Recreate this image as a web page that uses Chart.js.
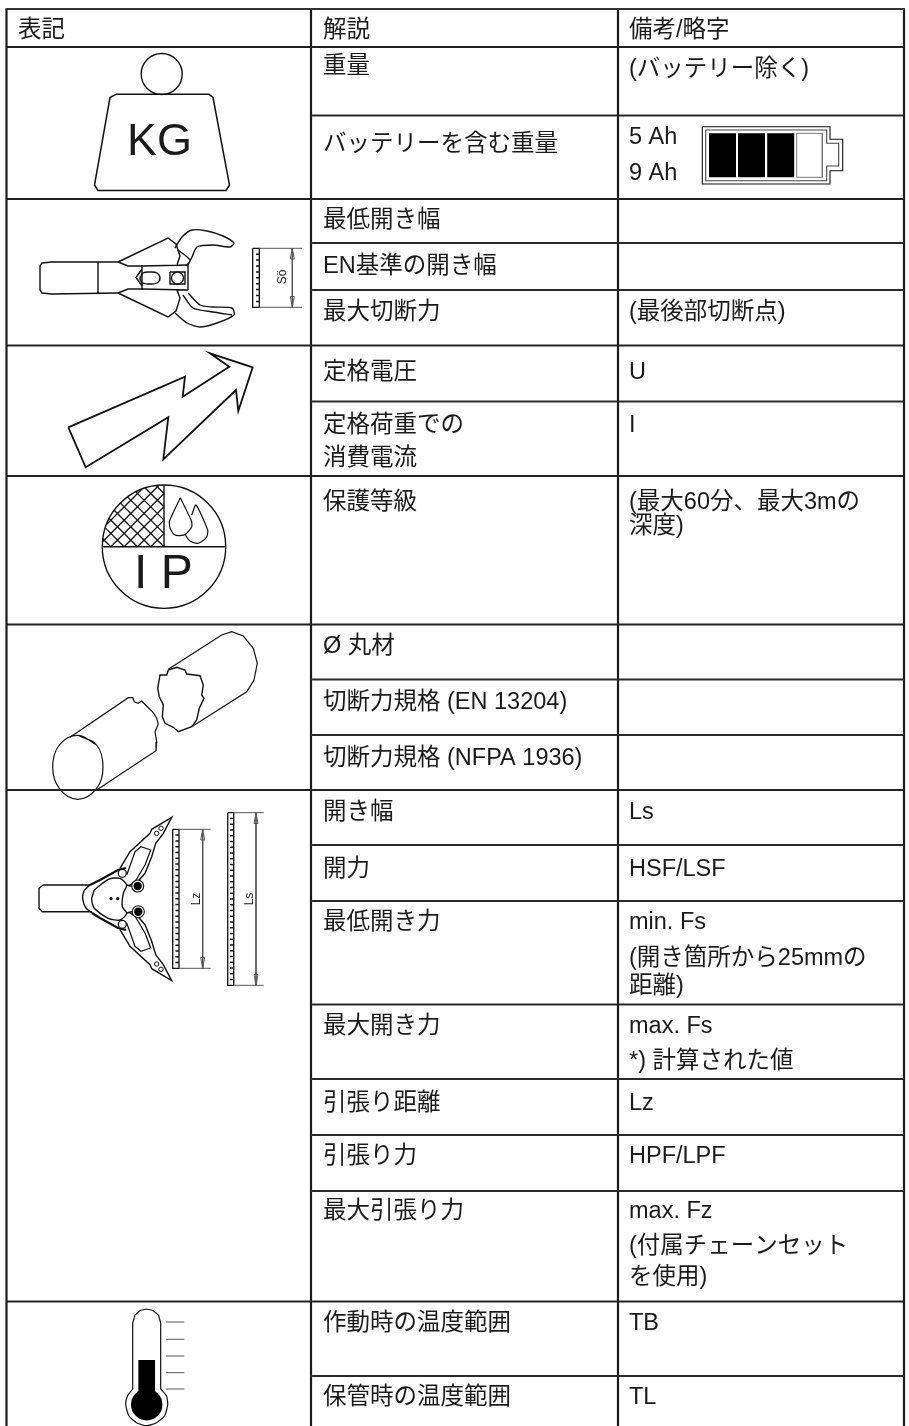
<!DOCTYPE html>
<html>
<head>
<meta charset="utf-8">
<script src="https://cdn.jsdelivr.net/npm/chart.js@4"></script>
<style>
html, body { margin: 0; padding: 0; background: #fff; }
canvas { display: block; }
</style>
</head>
<body>
<canvas id="sheet" width="909" height="1426"></canvas>
<script>
// table rulings, in picture units
const colEdges = [6.5, 311, 618, 904];
const topEdge = 9;
const bottomEdge = 1426;
const fullRows = [47, 199, 345.5, 476, 624.5, 790, 1301.5];
const innerRows = [115.5, 243, 290, 401.5, 679.5, 735, 845, 901, 1004.5, 1079, 1135, 1191, 1376];

const headTexts = ["表記", "解説", "備考/略字"];
const headY = 37;
const descTexts = ["重量", "バッテリーを含む重量", "最低開き幅", "EN基準の開き幅", "最大切断力", "定格電圧", "定格荷重での", "消費電流", "保護等級", "Ø 丸材", "切断力規格 (EN 13204)", "切断力規格 (NFPA 1936)", "開き幅", "開力", "最低開き力", "最大開き力", "引張り距離", "引張り力", "最大引張り力", "作動時の温度範囲", "保管時の温度範囲"];
const descY = [73, 151, 227, 273, 319, 379, 432, 465, 509, 653, 709, 765, 819, 876, 929, 1033, 1110, 1163, 1218, 1330, 1404];
const noteTexts = ["(バッテリー除く)", "5 Ah", "9 Ah", "(最後部切断点)", "U", "I", "(最大60分、最大3mの", "深度)", "Ls", "HSF/LSF", "min. Fs", "(開き箇所から25mmの", "距離)", "max. Fs", "*) 計算された値", "Lz", "HPF/LPF", "max. Fz", "(付属チェーンセット", "を使用)", "TB", "TL"];
const noteY = [76, 144, 180, 319, 379, 432, 509, 533, 819, 876, 929, 965, 993, 1033, 1068, 1110, 1163, 1218, 1253, 1284, 1330, 1404];

// weight symbol
const weightBody = [[116, 94.3], [209, 94.3], [213, 97.5], [229.5, 185], [226, 190.5], [98, 190.5], [94.5, 185], [110, 97.5], [116, 94.3]];
const weightRing = [[161.7, 74]];

// battery
const batteryOuter = [[702.3, 126.7], [830, 126.7], [830, 139.3], [842.7, 139.3], [842.7, 170.7], [830, 170.7], [830, 184], [702.3, 184], [702.3, 126.7]];
const batteryInner = [[705.7, 130], [826.7, 130], [826.7, 143.3], [838.7, 143.3], [838.7, 166], [826.7, 166], [826.7, 180.7], [705.7, 180.7], [705.7, 130]];
const batteryBarX = [722.5, 751.5, 780.7];
const batteryEmpty = [[796.7, 133.3], [822.3, 133.3], [822.3, 177.3], [796.7, 177.3], [796.7, 133.3]];

// cutter
const cutterHandle = [[118, 262], [52, 262], [42, 263], [40, 266], [40, 290], [42, 293], [52, 294], [118, 293], null, [98, 262], [98, 293]];
const cutterUpper = [[118, 262], [168, 238], [176, 244], [180, 256], [177, 265], null, [118, 262], [128, 266], [142, 266], [188, 265]];
const cutterLower = [[118, 293], [168, 317], [176, 311], [180, 298], [177, 290], null, [118, 293], [128, 289], [142, 289], [188, 290]];
const cutterBlock = [[188, 265], [188, 290], null, [142, 265], [142, 290], null, [142, 269], [136, 277.5], [142, 286], null, [170, 272], [185, 272], [185, 284], [170, 284], [170, 272]];
const cutterOval = [[140, 278], [143, 273], [150, 272], [157, 273], [160, 278], [157, 283], [150, 284], [143, 283], [140, 278], [143, 273]];
const cutterPin = [[177.5, 278]];
const jawUpper = [[175, 248], [182, 237], [192, 230], [207, 231], [223, 236], [234, 243], [230, 247], [213, 245], [197, 247], [192, 257], [188, 265], null, [178, 250], [190, 260], [186, 266]];
const jawLower = [[175, 313], [187, 323], [200, 327], [217, 323], [234, 315], [232, 308], [213, 307], [200, 305], [188, 293], null, [183, 295], [193, 308], [213, 312], [232, 315]];
const openScale = [[252.7, 248.3], [259.3, 248.3], [259.3, 307.3], [252.7, 307.3], [252.7, 248.3]];
const openTickY = [254.2, 260.1, 266, 271.9, 277.8, 283.7, 289.6, 295.5, 301.4];
const openGuides = [[259.3, 248.3], [302, 248.3], null, [259.3, 307.3], [302, 307.3], null, [292.3, 248.3], [292.3, 307.3]];
const openArrows = [[290.3, 259], [292.3, 248.3], [294.3, 259], [290.3, 259], null, [290.3, 296.5], [292.3, 307.3], [294.3, 296.5], [290.3, 296.5]];

// lightning arrow
const arrowShape = [[68.3, 427.3], [185, 376.7], [182.7, 396.7], [229.3, 366.7], [210, 353.3], [252.7, 367.3], [238.3, 411], [236, 390], [163.3, 459.3], [168.3, 417.3], [85.7, 467.3], [68.3, 427.3]];

// IP symbol
const ipCircle = [[164, 546.7]];
const ipCross = [[102.3, 546.7], [225.7, 546.7], null, [164, 485], [164, 546.7]];
const ipHatch = [
  [150.7, 546.7], [164, 533.4], null, [137.4, 546.7], [164, 520.1], null, [124.1, 546.7], [164, 506.8], null,
  [110.8, 546.7], [164, 493.5], null, [102.5, 541.7], [159, 485.2], null, [106.5, 524.5], [141.8, 489.2], null,
  [164, 546.7], [120.4, 503.1], null, [150.7, 546.7], [114.2, 510.2], null, [137.4, 546.7], [109.2, 518.5], null,
  [124.1, 546.7], [105.3, 527.9], null, [110.8, 546.7], [102.8, 538.7], null, [164, 533.4], [127.5, 496.9], null,
  [164, 520.1], [135.8, 491.9], null, [164, 506.8], [145.2, 488], null, [164, 493.5], [156, 485.5]
];
const dropLeft = [[180.3, 497.7], [191.5, 521], [191.7, 527], [186, 534], [180, 535.7], [174, 534.5], [170, 528], [169.5, 521], [180.3, 497.7]];
const dropRight = [[191.7, 515], [196, 505], [207.7, 530], [206.7, 537], [201, 542], [196.7, 543.3], [190, 541], [185.3, 535]];

// broken tube
const tubeEnd = [[77.7, 735.3], [96.7, 745], [103, 767.3], [96.7, 788.3], [77.7, 799.3], [59.3, 788.3], [52.7, 767.3], [59.3, 745], [77.7, 735.3], [96.7, 745]];
const tubeLeft = [[70, 737.3], [128.3, 697.7], [132.7, 697.7], [134.3, 701.7], [138.3, 703.3], [141.7, 701], [146.7, 706], [153.3, 712.7], [156.7, 718.3], [158.3, 724], [155, 731.7], [156.7, 741.7], [156, 750.7], [96.7, 790]];
const tubeRight = [[168.3, 669.3], [221.7, 635], [231.7, 631.7], [243.3, 636], [253.3, 648.3], [257.3, 663.3], [254, 680], [246.7, 691.7], [191.7, 726.7]];
const tubeBreak = [[168.3, 670], [176.7, 667.3], [185, 670], [186.7, 674], [200, 675.7], [203.3, 685], [201.7, 695], [204, 698.3], [199.3, 708.3], [196.7, 720], [191.7, 726.7], [178.3, 731.7], [173.3, 727.3], [165, 723.3], [162.3, 716.7], [163.3, 705], [159.3, 696.7], [157.7, 688.3], [160, 675], [166.7, 675], [168.3, 670]];

// spreader
const spreadHandle = [[90, 885], [43.3, 885], [39, 888.3], [39, 908.3], [42.3, 911.7], [92, 911.7]];
const spreadNose = [[90, 885], [84, 891], [82.7, 899], [86, 908], [92, 913]];
const spreadEdges = [[90, 885], [100, 880], [118, 870], [126, 868], null, [92, 913], [100, 918], [118, 928], [126, 930]];
const spreadHead = [[94.3, 890], [108.3, 879.3], [120, 878.3], [126.7, 885], [123.3, 893.3], [122.3, 906.7], [126.7, 913.3], [120, 920], [108.3, 918.3], [94.3, 908.3], [91.7, 899], [94.3, 890]];
const spreadArmUp = [[120, 868.3], [130, 851.7], [150, 833.3], [151.7, 829.3], [171.7, 817.3], [163.3, 833.3], [155.7, 843.3], [151.7, 856.7], [145, 873.3], [133.3, 886.7], [127, 885]];
const spreadArmDown = [[120, 929.7], [130, 946.3], [150, 964.7], [151.7, 968.7], [171.7, 980.7], [163.3, 964.7], [155.7, 954.7], [151.7, 941.3], [145, 924.7], [133.3, 911.3], [127, 913]];
const spreadWinUp = [[126.7, 875], [135, 851.7], [141, 846.7], [150.7, 850], [145, 865], [135, 881.7], [128.3, 886]];
const spreadWinDown = [[126.7, 923], [135, 946.3], [141, 951.3], [150.7, 948], [145, 933], [135, 916.3], [128.3, 912]];
const spreadHoles = [[122.3, 873.3], [122.3, 924.3]];
const spreadPins = [[137.7, 886], [138.3, 911.7]];
const spreadDots = [[111, 898.7], [117.7, 898.7]];
const spreadTips = [[156.7, 833.3], [161, 828.3], [156.7, 964], [161, 969.3]];
const lzScale = [[172.7, 829.3], [179, 829.3], [179, 968.3], [172.7, 968.3], [172.7, 829.3]];
const lzTickY = [835.1, 840.9, 846.7, 852.5, 858.3, 864.1, 869.8, 875.6, 881.4, 887.2, 893, 898.8, 904.6, 910.4, 916.2, 922, 927.8, 933.6, 939.4, 945.2, 951, 956.8, 962.6];
const lzGuides = [[179, 829.3], [210.7, 829.3], null, [179, 968.3], [210.7, 968.3], null, [202.7, 829.3], [202.7, 968.3]];
const lzArrows = [[200.7, 840], [202.7, 829.3], [204.7, 840], [200.7, 840], null, [200.7, 957.5], [202.7, 968.3], [204.7, 957.5], [200.7, 957.5]];
const lsScale = [[227.7, 812.7], [233.7, 812.7], [233.7, 985.3], [227.7, 985.3], [227.7, 812.7]];
const lsTickY = [818.5, 824.2, 830, 835.7, 841.5, 847.2, 853, 858.7, 864.5, 870.2, 876, 881.7, 887.5, 893.2, 899, 904.7, 910.5, 916.2, 922, 927.7, 933.5, 939.2, 945, 950.7, 956.5, 962.2, 968, 973.7, 979.5];
const lsGuides = [[233.7, 812.7], [263.7, 812.7], null, [233.7, 985.3], [263.7, 985.3], null, [256, 812.7], [256, 985.3]];
const lsArrows = [[254, 823.5], [256, 812.7], [258, 823.5], [254, 823.5], null, [254, 974.5], [256, 985.3], [258, 974.5], [254, 974.5]];

// thermometer
const thermoTube = [[132.7, 1389], [132.7, 1323], [135, 1315], [140, 1310.5], [146.7, 1309], [153, 1310.5], [158.5, 1315], [160.7, 1323], [160.7, 1389]];
const thermoBulb = [[132.7, 1389], [127.5, 1396], [125.7, 1404.7], [129, 1416], [137, 1423], [146.7, 1425.7], [156, 1423], [164.5, 1416], [167.7, 1404.7], [166.5, 1396], [160.7, 1389]];
const thermoTickY = [1322, 1339.3, 1356, 1372.7, 1389];
const thermoStem = [[146.7, 1360], [146.7, 1396]];
const thermoBall = [[146.7, 1404.7]];

const INK = "#111";
const GUIDE = "#555";
const FONT = '"Liberation Sans", "Noto Sans CJK JP", sans-serif';

function pts(list) {
  return list.map(p => p ? { x: p[0], y: p[1] } : { x: null, y: null });
}

function stroke(list, width, color, tension) {
  return {
    data: pts(list), showLine: true, pointRadius: 0, spanGaps: false, fill: false,
    borderColor: color || INK, borderWidth: width || 1.4, tension: tension || 0,
    borderCapStyle: "butt", borderJoinStyle: "miter"
  };
}

function marks(list, radius, fillColor, width, color) {
  return {
    data: pts(list), showLine: false, pointStyle: "circle", pointRadius: radius,
    backgroundColor: fillColor, pointBackgroundColor: fillColor,
    pointBorderColor: color || INK, pointBorderWidth: width === undefined ? 1.3 : width
  };
}

function hTicks(ys, x0, x1) {
  let out = [];
  ys.forEach(y => { out.push([x0, y], [x1, y], null); });
  return out;
}

function buildRules() {
  let lines = [];
  const left = colEdges[0], right = colEdges[3];
  colEdges.forEach(x => lines.push(stroke([[x, topEdge], [x, bottomEdge]], 2.2, "#1c1c1c")));
  lines.push(stroke([[left - 1, topEdge], [right + 1, topEdge]], 2.2, "#333"));
  fullRows.forEach(y => lines.push(stroke([[left, y], [right, y]], 2, "#222")));
  innerRows.forEach(y => lines.push(stroke([[colEdges[1], y], [right, y]], 2, "#2a2a2a")));
  return lines;
}

const sets = [
  ...buildRules(),
  marks(weightRing, 20.5, "#fff", 1.4),
  stroke(weightBody, 1.5),
  stroke(batteryOuter, 1.1),
  stroke(batteryInner, 1.1, "#444"),
  ...batteryBarX.map(x => stroke([[x, 133.3], [x, 177.3]], 27, "#000")),
  stroke(batteryEmpty, 1, "#777"),
  stroke(cutterHandle),
  stroke(cutterUpper),
  stroke(cutterLower),
  stroke(cutterBlock),
  stroke(cutterOval, 1.4, INK, 0.4),
  marks(cutterPin, 6, "#fff"),
  stroke(jawUpper, 1.4, INK, 0.25),
  stroke(jawLower, 1.4, INK, 0.25),
  stroke(openScale, 1.3),
  stroke(hTicks(openTickY, 256, 259.3), 1.5),
  stroke(openGuides, 1, GUIDE),
  stroke(openArrows, 1, GUIDE),
  stroke(arrowShape, 1.8),
  marks(ipCircle, 61.7, "rgba(0,0,0,0)", 1.4),
  stroke(ipCross, 1.4),
  stroke(ipHatch, 1.3),
  stroke(dropLeft, 1.2, INK, 0.2),
  stroke(dropRight, 1.2, INK, 0.2),
  stroke(tubeEnd, 1.2, INK, 0.4),
  stroke(tubeLeft, 1.2),
  stroke(tubeRight, 1.2),
  stroke(tubeBreak, 1.4),
  stroke(spreadHandle),
  stroke(spreadNose, 1.4, INK, 0.3),
  stroke(spreadEdges, 2.2),
  stroke(spreadHead, 1.4, INK, 0.25),
  stroke(spreadArmUp),
  stroke(spreadArmDown),
  stroke(spreadWinUp, 1.2),
  stroke(spreadWinDown, 1.2),
  marks(spreadHoles, 4, "#fff"),
  marks(spreadPins, 6, "#fff", 1.1),
  marks(spreadPins, 4.2, "#000", 0),
  marks(spreadDots, 1.6, "#000", 0),
  marks(spreadTips, 2.2, "#fff", 1),
  stroke(lzScale, 1.3),
  stroke(hTicks(lzTickY, 175.5, 179), 1.5),
  stroke(lzGuides, 1, GUIDE),
  stroke(lzArrows, 1, GUIDE),
  stroke(lsScale, 1.3),
  stroke(hTicks(lsTickY, 230, 233.7), 1.5),
  stroke(lsGuides, 1, GUIDE),
  stroke(lsArrows, 1, GUIDE),
  stroke(thermoTube, 1.2),
  stroke(thermoBulb, 1.2, INK, 0.2),
  stroke(hTicks(thermoTickY, 166, 184.3), 1, GUIDE),
  stroke(thermoStem, 16.7, "#000"),
  marks(thermoBall, 15.7, "#000", 0)
];
sets.forEach((d, i) => { d.order = -i; });

// texts go on top of the datasets, placed through the scales
const sheetText = {
  id: "sheetText",
  afterDatasetsDraw(chart) {
    const ctx = chart.ctx;
    const sx = v => chart.scales.x.getPixelForValue(v);
    const sy = v => chart.scales.y.getPixelForValue(v);
    function put(str, x, y, size, rot) {
      ctx.save();
      ctx.font = size + "px " + FONT;
      ctx.fillStyle = "#1a1a1a";
      ctx.textBaseline = "alphabetic";
      ctx.textAlign = rot ? "center" : "left";
      ctx.translate(sx(x), sy(y));
      if (rot) ctx.rotate(rot);
      ctx.fillText(str, 0, 0);
      ctx.restore();
    }
    put(headTexts[0], 18, headY, 23.5);
    put(headTexts[1], 323, headY, 23.5);
    put(headTexts[2], 629, headY, 23.5);
    descTexts.forEach((t, i) => put(t, 323, descY[i], 23.5));
    noteTexts.forEach((t, i) => put(t, 629, noteY[i], 23.5));
    put("KG", 127, 155, 45);
    put("I P", 134, 587.7, 48);
    put("Sö", 285.5, 277, 12, -Math.PI / 2);
    put("Lz", 200, 899, 12, -Math.PI / 2);
    put("Ls", 253, 899, 12, -Math.PI / 2);
  }
};

new Chart(document.getElementById("sheet"), {
  type: "scatter",
  data: { datasets: sets },
  options: {
    responsive: false,
    animation: false,
    events: [],
    layout: { padding: 0, autoPadding: false },
    plugins: { legend: { display: false }, tooltip: { enabled: false } },
    scales: {
      x: { type: "linear", display: false, min: 0, max: 909 },
      y: { type: "linear", display: false, min: 0, max: 1426, reverse: true }
    }
  },
  plugins: [sheetText]
});
</script>
</body>
</html>
